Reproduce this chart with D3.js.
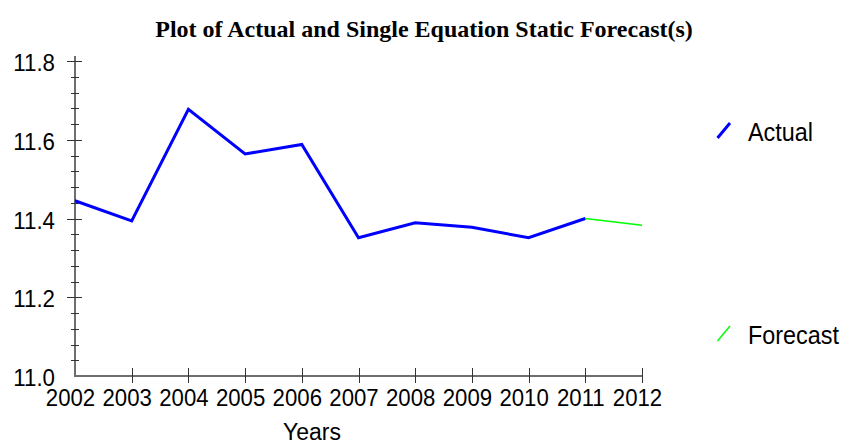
<!DOCTYPE html>
<html>
<head>
<meta charset="utf-8">
<script src="https://cdn.jsdelivr.net/npm/d3@7"></script>
<style>
  html, body { margin: 0; padding: 0; background: #fff; }
  svg { display: block; }
</style>
</head>
<body>
<svg id="chart" width="844" height="445"></svg>
<script>
// Annual values
const years = [2002, 2003, 2004, 2005, 2006, 2007, 2008, 2009, 2010, 2011, 2012];
const actualYears = [2002, 2003, 2004, 2005, 2006, 2007, 2008, 2009, 2010, 2011];
const actualValues = [11.445, 11.394, 11.677, 11.564, 11.588, 11.351, 11.389, 11.378, 11.351, 11.400];
const forecastYears = [2011, 2012];
const forecastValues = [11.400, 11.383];
const yTickValues = [11.0, 11.2, 11.4, 11.6, 11.8];

const svg = d3.select("#chart");
const plotLeft = 75, plotRight = 642, plotTop = 61, plotBottom = 376;

const x = d3.scaleLinear().domain([2002, 2012]).range([plotLeft, plotRight]);
const y = d3.scaleLinear().domain([11.0, 11.8]).range([plotBottom, plotTop]);

const font = "'Liberation Sans', Arial, sans-serif";
const axisColor = "#6e6e6e";
const stretch = 1.08; // glyphs are drawn slightly taller than wide

// Places a text at (tx, ty) with a vertical stretch applied about its baseline
function placeText(sel, tx, ty) {
  return sel.attr("transform", (d, i) =>
    `translate(${typeof tx === "function" ? tx(d, i) : tx},${typeof ty === "function" ? ty(d, i) : ty}) scale(1,${stretch})`);
}

// Title
svg.append("text")
  .attr("x", 424).attr("y", 37)
  .attr("text-anchor", "middle")
  .attr("font-family", "'Liberation Serif', 'Times New Roman', serif")
  .attr("font-weight", "bold")
  .attr("font-size", 24)
  .text("Plot of Actual and Single Equation Static Forecast(s)");

// Y axis: majors every 0.2, minors every 0.04
const yAxis = svg.append("g");
yAxis.append("line")
  .attr("x1", plotLeft).attr("x2", plotLeft)
  .attr("y1", plotTop - 5).attr("y2", plotBottom)
  .attr("stroke", axisColor).attr("stroke-width", 2);
const minorTicks = d3.range(0, 21).map(i => 11 + i * 0.04).filter(v => Math.round(v * 100) % 20 !== 0);
yAxis.selectAll("line.minor").data(minorTicks).join("line")
  .attr("class", "minor")
  .attr("x1", plotLeft - 4).attr("x2", plotLeft + 4)
  .attr("y1", d => Math.round(y(d)) + 0.5).attr("y2", d => Math.round(y(d)) + 0.5)
  .attr("stroke", "#333").attr("stroke-width", 1);
yAxis.selectAll("line.major").data(yTickValues.slice(1)).join("line")
  .attr("class", "major")
  .attr("x1", plotLeft - 8).attr("x2", plotLeft + 7)
  .attr("y1", d => Math.round(y(d)) + 0.5).attr("y2", d => Math.round(y(d)) + 0.5)
  .attr("stroke", "#333").attr("stroke-width", 1);
placeText(yAxis.selectAll("text").data(yTickValues).join("text"), plotLeft - 20, d => y(d) + 10)
  .attr("text-anchor", "end")
  .attr("font-family", font).attr("font-size", 22.3)
  .attr("fill", "#000")
  .text(d => d3.format(".1f")(d));

// X axis
const xAxis = svg.append("g");
xAxis.append("line")
  .attr("x1", plotLeft - 1).attr("x2", plotRight)
  .attr("y1", plotBottom).attr("y2", plotBottom)
  .attr("stroke", axisColor).attr("stroke-width", 2);
xAxis.selectAll("line.tick").data(years.slice(1)).join("line")
  .attr("class", "tick")
  .attr("x1", d => Math.round(x(d)) + 0.5).attr("x2", d => Math.round(x(d)) + 0.5)
  .attr("y1", plotBottom - 8).attr("y2", plotBottom + 7)
  .attr("stroke", "#333").attr("stroke-width", 1);
placeText(xAxis.selectAll("text").data(years).join("text"), d => x(d) - 4.5, 406)
  .attr("text-anchor", "middle")
  .attr("font-family", font).attr("font-size", 22.2)
  .attr("fill", "#000")
  .text(d => d);

placeText(svg.append("text"), 312, 439.5)
  .attr("text-anchor", "middle")
  .attr("font-family", font).attr("font-size", 23)
  .text("Years");

// Series lines
const line = d3.line().x(d => x(d[0])).y(d => y(d[1]));
svg.append("path")
  .datum(forecastYears.map((yr, i) => [yr, forecastValues[i]]))
  .attr("d", line)
  .attr("fill", "none").attr("stroke", "#00ff00").attr("stroke-width", 1.5);
svg.append("path")
  .datum(actualYears.map((yr, i) => [yr, actualValues[i]]))
  .attr("d", line)
  .attr("fill", "none").attr("stroke", "#0000ff").attr("stroke-width", 3)
  .attr("stroke-linejoin", "miter");

// Legend
const legend = [
  { label: "Actual", color: "#0000ff", width: 3, y: 131 },
  { label: "Forecast", color: "#00ff00", width: 1.5, y: 334 }
];
const lg = svg.append("g").selectAll("g").data(legend).join("g");
lg.append("line")
  .attr("x1", 717.5).attr("x2", 730)
  .attr("y1", d => d.y + 7).attr("y2", d => d.y - 8)
  .attr("stroke", d => d.color).attr("stroke-width", d => d.width);
placeText(lg.append("text"), 748, d => d.y + 9.5)
  .attr("font-family", font).attr("font-size", 23.4)
  .text(d => d.label);
</script>
</body>
</html>
